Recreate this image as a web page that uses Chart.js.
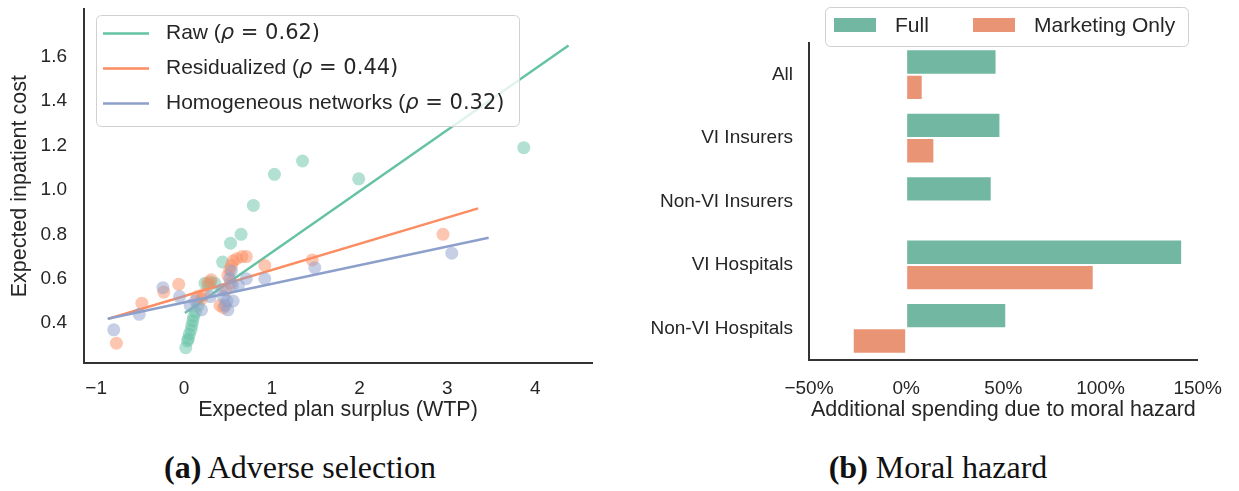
<!DOCTYPE html>
<html>
<head>
<meta charset="utf-8">
<script src="https://cdn.jsdelivr.net/npm/chart.js@4.4.1/dist/chart.umd.min.js"></script>
<style>
  html, body { margin: 0; padding: 0; background: #fff; overflow: hidden; width: 1239px; height: 491px; }
  #left { position: absolute; left: 0; top: -19px; width: 610px; height: 449px; }
  #right { position: absolute; left: 620px; top: 0; width: 619px; height: 430px; }
  .cap { position: absolute; top: 449px; font-family: "Liberation Serif", serif; font-size: 32px; color: #111;
         white-space: nowrap; transform: translateX(-50%); }
</style>
</head>
<body>
<div id="left"><canvas id="scatter" width="610" height="449"></canvas></div>
<div id="right"><canvas id="bars" width="619" height="430"></canvas></div>
<div class="cap" style="left:300px"><b>(a)</b> Adverse selection</div>
<div class="cap" style="left:938px"><b>(b)</b> Moral hazard</div>

<script>
// ---- panel (a): scatter data ----
const rawX = [3.87, 1.35, 1.03, 1.99, 0.79, 0.65, 0.53, 0.44, 0.24, 0.30, 0.35, 0.28, 0.16, 0.13, 0.11, 0.10, 0.09, 0.08, 0.06, 0.05, 0.04, 0.02];
const rawY = [1.19, 1.13, 1.07, 1.05, 0.93, 0.80, 0.76, 0.675, 0.58, 0.585, 0.58, 0.57, 0.48, 0.45, 0.43, 0.41, 0.39, 0.37, 0.35, 0.33, 0.32, 0.29];

const resX = [-0.77, -0.48, -0.23, -0.06, 0.20, 0.31, 0.27, 0.41, 0.45, 0.50, 0.52, 0.56, 0.60, 0.66, 0.71, 0.54, 0.92, 1.46, 2.95, 0.48, 0.22, 0.15, 0.53];
const resY = [0.31, 0.49, 0.54, 0.575, 0.51, 0.595, 0.58, 0.48, 0.47, 0.615, 0.64, 0.68, 0.69, 0.70, 0.70, 0.66, 0.66, 0.685, 0.80, 0.55, 0.53, 0.52, 0.58];

const homX = [-0.80, -0.51, -0.24, -0.05, 0.07, 0.20, 0.13, 0.45, 0.49, 0.50, 0.47, 0.54, 0.52, 0.55, 0.62, 0.71, 0.92, 1.49, 3.05, 0.56, 0.43, 0.30];
const homY = [0.37, 0.44, 0.56, 0.52, 0.48, 0.46, 0.50, 0.52, 0.50, 0.46, 0.48, 0.635, 0.60, 0.57, 0.57, 0.60, 0.60, 0.65, 0.715, 0.50, 0.55, 0.52];

// fitted lines (end points)
const rawFitX = [0.01, 4.38];
const rawFitY = [0.446, 1.65];
const resFitX = [-0.86, 3.35];
const resFitY = [0.42, 0.917];
const homFitX = [-0.87, 3.47];
const homFitY = [0.42, 0.785];

const seriesNames = ['Raw', 'Residualized', 'Homogeneous networks'];
const rhoValues = ['0.62', '0.44', '0.32'];
const xTicks = [-1, 0, 1, 2, 3, 4];
const yTicks = [0.4, 0.6, 0.8, 1.0, 1.2, 1.4, 1.6];

// ---- panel (b): bars ----
const categories = ['All', 'VI Insurers', 'Non-VI Insurers', 'VI Hospitals', 'Non-VI Hospitals'];
const fullValues = [46.5, 48.5, 44, 142, 51.5];
const marketingValues = [8.5, 14.5, null, 96.5, -27.5];
const barTicks = [-50, 0, 50, 100, 150];

const GREEN = '#66c2a5', ORANGE = '#fc8d62', BLUE = '#8da0cb';
const INK = '#262626';
const SANS = '"Liberation Sans", Arial, sans-serif';

const toXY = (xs, ys) => xs.map((x, i) => ({ x, y: ys[i] }));
const minus = (v) => (v < 0 ? '\u2212' + Math.abs(v) : String(v));

function axisBase() {
  return {
    grid: { display: false, drawTicks: false },
    border: { display: true, color: '#333', width: 2 },
    ticks: { color: INK, font: { family: SANS, size: 19 } },
  };
}

// legend drawn inside the axes, like matplotlib's
const scatterLegend = {
  id: 'scatterLegend',
  afterDraw(chart) {
    const ctx = chart.ctx;
    const colors = [GREEN, ORANGE, BLUE];
    ctx.save();
    ctx.beginPath();
    ctx.roundRect(96.5, 34.5, 423, 111, 5);
    ctx.fillStyle = 'rgba(255,255,255,0.8)';
    ctx.fill();
    ctx.strokeStyle = '#d0d0d0';
    ctx.lineWidth = 1;
    ctx.stroke();
    ctx.textBaseline = 'middle';
    seriesNames.forEach((name, i) => {
      const y = 52.5 + i * 35;
      ctx.strokeStyle = colors[i];
      ctx.lineWidth = 2.5;
      ctx.beginPath();
      ctx.moveTo(103, y);
      ctx.lineTo(149, y);
      ctx.stroke();
      ctx.fillStyle = INK;
      let x = 166;
      const parts = [
        [name + ' (', '21px ' + SANS],
        ['\u03c1', 'oblique 21px "DejaVu Sans", sans-serif'],
        [' = ' + rhoValues[i] + ')', '21px "DejaVu Sans", sans-serif'],
      ];
      parts.forEach(([t, f]) => {
        ctx.font = f;
        ctx.fillText(t, x, y);
        x += ctx.measureText(t).width;
      });
    });
    ctx.restore();
  }
};

const barLegend = {
  id: 'barLegend',
  afterDraw(chart) {
    const ctx = chart.ctx;
    ctx.save();
    ctx.beginPath();
    ctx.roundRect(205.5, 7.5, 363, 39, 5);
    ctx.fillStyle = 'rgba(255,255,255,0.8)';
    ctx.fill();
    ctx.strokeStyle = '#d0d0d0';
    ctx.lineWidth = 1;
    ctx.stroke();
    ctx.textBaseline = 'middle';
    ctx.font = '21px ' + SANS;
    const spots = [[214, 275], [353, 414]];
    chart.data.datasets.forEach((ds, i) => {
      ctx.fillStyle = ds.backgroundColor;
      ctx.fillRect(spots[i][0], 18, 42, 14);
      ctx.fillStyle = INK;
      ctx.fillText(ds.label, spots[i][1], 26);
    });
    ctx.restore();
  }
};

const sx = axisBase();
Object.assign(sx, {
  min: -1.139, max: 4.647,
  afterBuildTicks(s) { s.ticks = xTicks.map(v => ({ value: v })); },
  afterFit(s) { s.height = 67; },
  title: { display: true, text: 'Expected plan surplus (WTP)', color: INK,
           font: { family: SANS, size: 21.5 }, padding: { top: 0, bottom: 7 } },
});
sx.ticks.padding = 14;
sx.ticks.callback = (v) => minus(v);

const sy = axisBase();
Object.assign(sy, {
  min: 0.2208, max: 1.8125,
  afterBuildTicks(s) { s.ticks = yTicks.map(v => ({ value: v })); },
  afterFit(s) { s.width = 84; },
  title: { display: true, text: 'Expected inpatient cost', color: INK,
           font: { family: SANS, size: 21.5 }, padding: { top: 7, bottom: 0 } },
});
sy.ticks.padding = 17;
sy.ticks.callback = (v) => v.toFixed(1);

const dot = (c) => c + '80';

new Chart(document.getElementById('scatter'), {
  type: 'scatter',
  data: {
    datasets: [
      { label: seriesNames[2], data: toXY(homFitX, homFitY), showLine: true, borderColor: BLUE, borderWidth: 2.5, pointRadius: 0, order: 0 },
      { data: toXY(homX, homY), backgroundColor: dot(BLUE), borderWidth: 0, pointRadius: 6.5, order: 1 },
      { label: seriesNames[1], data: toXY(resFitX, resFitY), showLine: true, borderColor: ORANGE, borderWidth: 2.5, pointRadius: 0, order: 2 },
      { data: toXY(resX, resY), backgroundColor: dot(ORANGE), borderWidth: 0, pointRadius: 6.5, order: 3 },
      { label: seriesNames[0], data: toXY(rawFitX, rawFitY), showLine: true, borderColor: GREEN, borderWidth: 2.5, pointRadius: 0, order: 4 },
      { data: toXY(rawX, rawY), backgroundColor: dot(GREEN), borderWidth: 0, pointRadius: 6.5, order: 5 },
    ]
  },
  options: {
    responsive: false,
    animation: false,
    layout: { padding: { top: 0, right: 18, left: 0, bottom: 0 } },
    plugins: { legend: { display: false }, tooltip: { enabled: false } },
    scales: { x: sx, y: sy },
  },
  plugins: [scatterLegend],
});

const bx = axisBase();
Object.assign(bx, {
  min: -50, max: 150,
  afterBuildTicks(s) { s.ticks = barTicks.map(v => ({ value: v })); },
  afterFit(s) { s.height = 70; },
  title: { display: true, text: 'Additional spending due to moral hazard', color: INK,
           font: { family: SANS, size: 21.5 }, padding: { top: 0, bottom: 7 } },
});
bx.ticks.padding = 17;
bx.ticks.callback = (v) => minus(v) + '%';

const by = axisBase();
Object.assign(by, { afterFit(s) { s.width = 189; } });
by.ticks.padding = 16;

new Chart(document.getElementById('bars'), {
  type: 'bar',
  data: {
    labels: categories,
    datasets: [
      { label: 'Full', data: fullValues, backgroundColor: '#71b7a1', borderColor: '#ffffff', borderWidth: 1,
        borderSkipped: false, categoryPercentage: 0.8, barPercentage: 1 },
      { label: 'Marketing Only', data: marketingValues, backgroundColor: '#e99575', borderColor: '#ffffff', borderWidth: 1,
        borderSkipped: false, categoryPercentage: 0.8, barPercentage: 1 },
    ]
  },
  options: {
    indexAxis: 'y',
    responsive: false,
    animation: false,
    layout: { padding: { top: 43, right: 35, left: 0, bottom: 0 } },
    plugins: { legend: { display: false }, tooltip: { enabled: false } },
    scales: { x: bx, y: by },
  },
  plugins: [barLegend],
});
</script>
</body>
</html>
